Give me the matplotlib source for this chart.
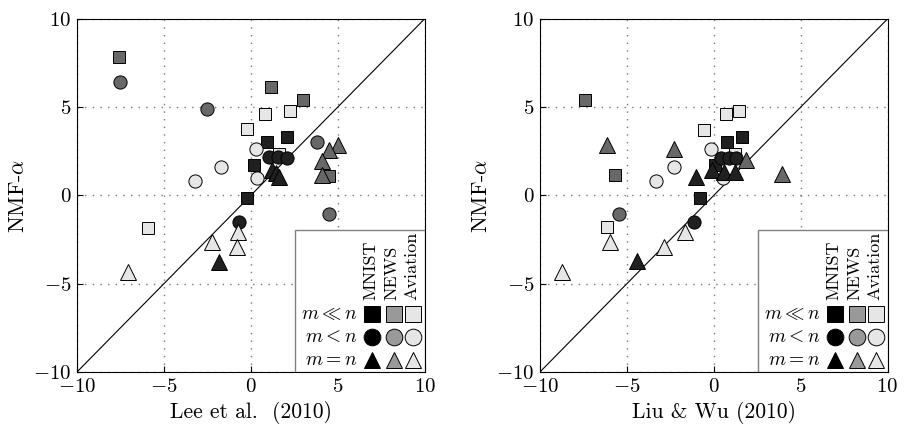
import numpy as np
import matplotlib
matplotlib.use("Agg")
import matplotlib.pyplot as plt
from matplotlib.patches import Rectangle

plt.rcParams['font.family'] = 'cmr10'
plt.rcParams['mathtext.fontset'] = 'cm'
plt.rcParams['axes.formatter.use_mathtext'] = True
plt.rcParams['axes.unicode_minus'] = True

# Lee et al. (2010) vs NMF-alpha
lee_mnist_sq_x = [-0.2, 0.96, 2.06, 0.2]
lee_mnist_sq_y = [-0.12, 3.0, 3.32, 1.7]
lee_news_sq_x = [-7.6, 1.19, 3.02, 4.5]
lee_news_sq_y = [7.84, 6.16, 5.40, 1.12]
lee_avi_sq_x = [-0.2, 0.81, 2.25, 1.63, -5.92]
lee_avi_sq_y = [3.75, 4.59, 4.77, 2.35, -1.82]
lee_mnist_ci_x = [1.05, 1.57, 2.09, -0.69]
lee_mnist_ci_y = [2.16, 2.16, 2.12, -1.48]
lee_news_ci_x = [-7.53, -2.52, 3.79, 4.51]
lee_news_ci_y = [6.44, 4.87, 3.01, -1.06]
lee_avi_ci_x = [-1.69, -3.23, 0.29, 0.38]
lee_avi_ci_y = [1.59, 0.82, 2.64, 0.99]
lee_mnist_tr_x = [1.2, 1.45, 1.65, -1.83]
lee_mnist_tr_y = [1.45, 1.25, 1.05, -3.75]
lee_news_tr_x = [5.0, 4.52, 4.07, 4.07]
lee_news_tr_y = [2.88, 2.6, 1.97, 1.18]
lee_avi_tr_x = [-0.73, -0.77, -2.23, -7.07]
lee_avi_tr_y = [-2.05, -2.9, -2.61, -4.32]

# Liu & Wu (2010) vs NMF-alpha
liu_mnist_sq_x = [-0.77, 0.77, 1.65, 0.06]
liu_mnist_sq_y = [-0.12, 3.0, 3.32, 1.7]
liu_news_sq_x = [-7.41, -5.69]
liu_news_sq_y = [5.38, 1.14]
liu_avi_sq_x = [-0.56, 0.69, 1.44, 1.21, -6.13]
liu_avi_sq_y = [3.73, 4.59, 4.77, 2.35, -1.78]
liu_mnist_ci_x = [0.44, 0.88, 1.26, -1.12]
liu_mnist_ci_y = [2.1, 2.14, 2.12, -1.5]
liu_news_ci_x = [-5.46]
liu_news_ci_y = [-1.03]
liu_avi_ci_x = [-0.17, -2.3, -3.35, 0.54]
liu_avi_ci_y = [2.64, 1.59, 0.84, 0.99]
liu_mnist_tr_x = [-1.0, -0.1, 0.6, 1.2, -4.41]
liu_mnist_tr_y = [1.05, 1.45, 1.3, 1.3, -3.72]
liu_news_tr_x = [-6.13, -2.3, 1.84, 3.95]
liu_news_tr_y = [2.88, 2.63, 2.03, 1.22]
liu_avi_tr_x = [-1.63, -5.98, -2.87, -8.72]
liu_avi_tr_y = [-2.08, -2.61, -2.93, -4.32]

datasets = ["MNIST", "NEWS", "Aviation"]
rows = [r"$m \ll n$", r"$m < n$", r"$m = n$"]
plot_colors = ["#202020", "#686868", "#e6e6e6"]
legend_colors = ["#000000", "#999999", "#e6e6e6"]
markers = ["s", "o", "^"]
msizes = [8, 9.5, 11]
leg_sizes = [11, 12, 12]

lee = [[(lee_mnist_sq_x, lee_mnist_sq_y), (lee_news_sq_x, lee_news_sq_y), (lee_avi_sq_x, lee_avi_sq_y)],
       [(lee_mnist_ci_x, lee_mnist_ci_y), (lee_news_ci_x, lee_news_ci_y), (lee_avi_ci_x, lee_avi_ci_y)],
       [(lee_mnist_tr_x, lee_mnist_tr_y), (lee_news_tr_x, lee_news_tr_y), (lee_avi_tr_x, lee_avi_tr_y)]]
liu = [[(liu_mnist_sq_x, liu_mnist_sq_y), (liu_news_sq_x, liu_news_sq_y), (liu_avi_sq_x, liu_avi_sq_y)],
       [(liu_mnist_ci_x, liu_mnist_ci_y), (liu_news_ci_x, liu_news_ci_y), (liu_avi_ci_x, liu_avi_ci_y)],
       [(liu_mnist_tr_x, liu_mnist_tr_y), (liu_news_tr_x, liu_news_tr_y), (liu_avi_tr_x, liu_avi_tr_y)]]

fig = plt.figure(figsize=(9.06, 4.30), dpi=100)
ax1 = fig.add_axes([0.085, 0.135, 0.3836, 0.821])
ax2 = fig.add_axes([0.596, 0.135, 0.3836, 0.821])


def panel(ax, data, xlabel):
    ax.plot([-10, 10], [-10, 10], color="black", lw=0.8, zorder=2)
    for r in range(3):
        for d in range(3):
            xs, ys = data[r][d]
            ax.plot(xs, ys, linestyle="none", marker=markers[r], ms=msizes[r],
                    mfc=plot_colors[d], mec="black", mew=0.7, zorder=3)
    ax.set_xlim(-10, 10)
    ax.set_ylim(-10, 10)
    ax.set_xticks([-10, -5, 0, 5, 10])
    ax.set_yticks([-10, -5, 0, 5, 10])
    ax.grid(True, color="#777777", linestyle=(0, (1, 4.5)), lw=1)
    ax.set_axisbelow(True)
    ax.tick_params(direction="in", labelsize=15, length=4, pad=4)
    ax.set_xlabel(xlabel, fontsize=15.5, labelpad=4)
    ax.set_ylabel(r"NMF-$\alpha$", fontsize=16, labelpad=4)

    # hand-made legend box
    ax.add_patch(Rectangle((0.627, 0.0), 0.373, 0.402, transform=ax.transAxes,
                           facecolor="white", edgecolor="#808080", lw=1, zorder=5))
    colx = [0.850, 0.913, 0.968]
    rowy = [0.163, 0.098, 0.034]
    for d in range(3):
        ax.text(colx[d] - 0.006, 0.204, datasets[d], rotation=90, ha="center", va="bottom",
                fontsize=13, transform=ax.transAxes, zorder=6)
        for r in range(3):
            ax.plot(colx[d], rowy[r], transform=ax.transAxes, marker=markers[r],
                    ms=leg_sizes[r], mfc=legend_colors[d], mec="black", mew=0.7,
                    linestyle="none", zorder=6, clip_on=False)
    for r in range(3):
        ax.text(0.806, rowy[r], rows[r], ha="right", va="center", fontsize=14,
                transform=ax.transAxes, zorder=6)


panel(ax1, lee, "Lee et al.  (2010)")
panel(ax2, liu, r"Liu & Wu (2010)")

fig.savefig("out.png", dpi=100)
